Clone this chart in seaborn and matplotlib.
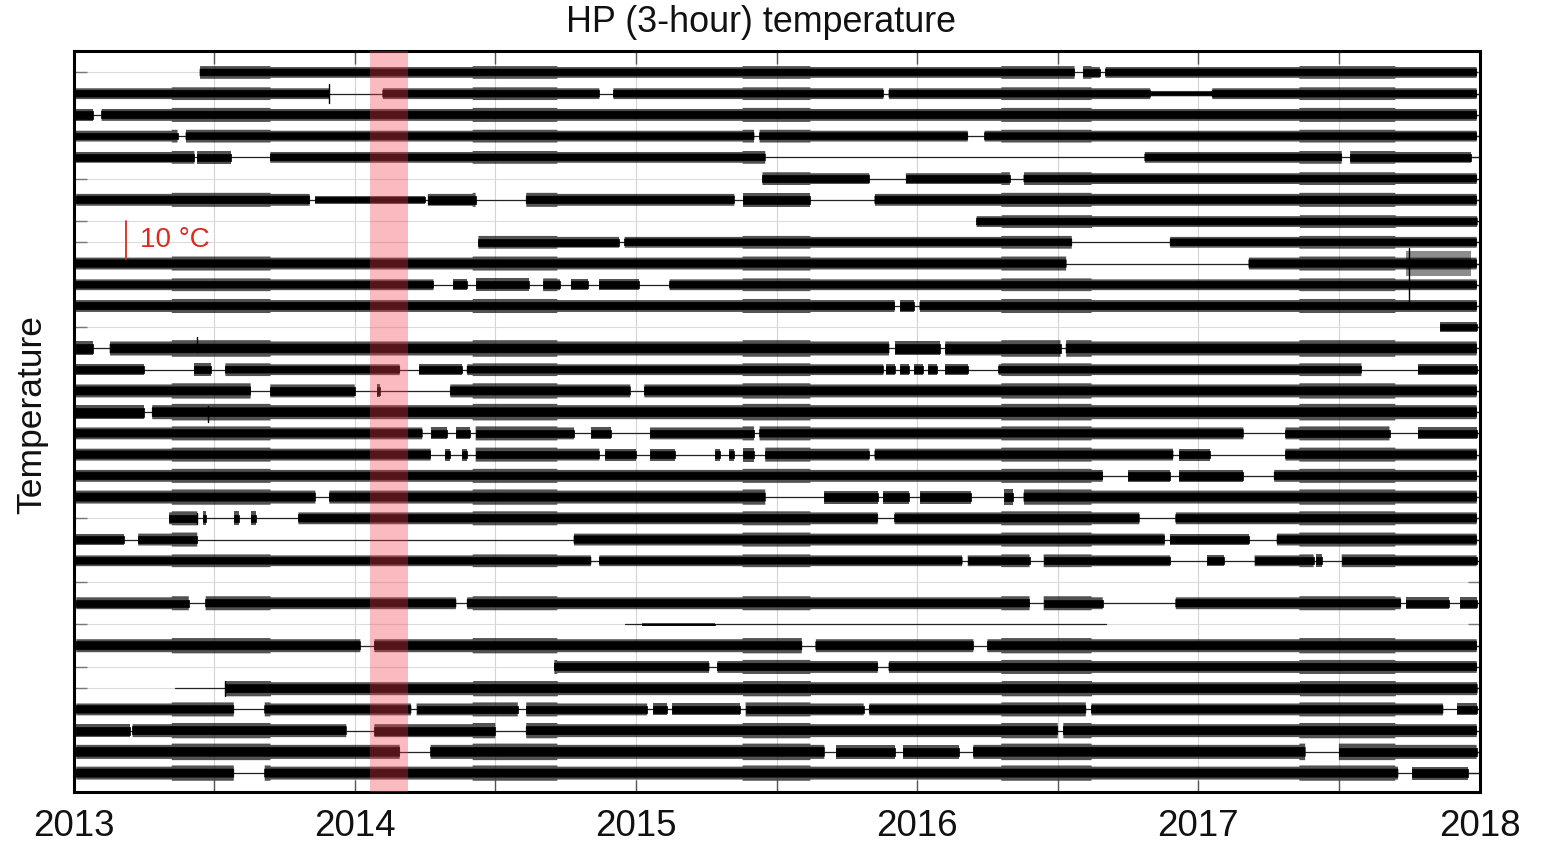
import numpy as np
import pandas as pd
import matplotlib
matplotlib.use("Agg")
import matplotlib.pyplot as plt
import seaborn as sns

# ---------------- data ----------------
title = "HP (3-hour) temperature"
ylabel = "Temperature"
year_ticks = [2013.0, 2013.5, 2014.0, 2014.5, 2015.0, 2015.5,
              2016.0, 2016.5, 2017.0, 2017.5, 2018.0]
year_labels = ["2013", "", "2014", "", "2015", "", "2016", "", "2017", "", "2018"]
highlight_span = (2014.053, 2014.191)
scale_bar_degC = 10
scale_label = "10 \u00b0C"

# data segments per station row: (start, end[, half-amplitude degC])
row_segments = [
    [(2013.45, 2016.56), (2016.59, 2016.65), (2016.67, 2017.99)],
    [(2013.0, 2013.91), (2014.10, 2014.87), (2014.92, 2015.88), (2015.90, 2016.83),
     (2016.83, 2017.05, 0.5), (2017.05, 2017.99)],
    [(2013.0, 2013.07), (2013.10, 2017.99)],
    [(2013.0, 2013.37), (2013.40, 2015.42), (2015.44, 2016.18), (2016.24, 2017.99)],
    [(2013.0, 2013.43), (2013.44, 2013.56), (2013.70, 2015.46), (2016.81, 2017.51),
     (2017.54, 2017.97)],
    [(2015.45, 2015.83), (2015.96, 2016.33), (2016.38, 2017.99)],
    [(2013.01, 2013.84), (2013.86, 2014.25, 0.7), (2014.26, 2014.43), (2014.61, 2015.35),
     (2015.38, 2015.62), (2015.85, 2017.99)],
    [(2016.21, 2017.99)],
    [(2014.44, 2014.94), (2014.96, 2016.55), (2016.90, 2017.99)],
    [(2013.0, 2016.53), (2017.18, 2017.99)],
    [(2013.0, 2014.28), (2014.35, 2014.40), (2014.43, 2014.62), (2014.67, 2014.73),
     (2014.77, 2014.83), (2014.87, 2015.01), (2015.12, 2017.99)],
    [(2013.0, 2015.92), (2015.94, 2015.99), (2016.01, 2017.99)],
    [(2017.86, 2017.99)],
    [(2013.01, 2013.07), (2013.13, 2015.90), (2015.92, 2016.08), (2016.10, 2016.51),
     (2016.53, 2017.99)],
    [(2013.01, 2013.25), (2013.43, 2013.49), (2013.54, 2014.16), (2014.23, 2014.38),
     (2014.40, 2015.88), (2015.89, 2015.92), (2015.94, 2015.97), (2015.99, 2016.02),
     (2016.04, 2016.07), (2016.10, 2016.18), (2016.29, 2017.58), (2017.78, 2017.99)],
    [(2013.0, 2013.63), (2013.70, 2014.00), (2014.08, 2014.09), (2014.34, 2014.98),
     (2015.03, 2017.99)],
    [(2013.0, 2013.25), (2013.28, 2017.99)],
    [(2013.0, 2014.24), (2014.27, 2014.33), (2014.36, 2014.41), (2014.43, 2014.78),
     (2014.84, 2014.91), (2015.05, 2015.42), (2015.44, 2017.16), (2017.31, 2017.68),
     (2017.78, 2017.99)],
    [(2013.0, 2014.27), (2014.32, 2014.34), (2014.38, 2014.40), (2014.43, 2014.87),
     (2014.89, 2015.00), (2015.05, 2015.14), (2015.28, 2015.30), (2015.33, 2015.35),
     (2015.38, 2015.42), (2015.46, 2015.83), (2015.85, 2016.91), (2016.93, 2017.04),
     (2017.31, 2017.99)],
    [(2013.0, 2016.66), (2016.75, 2016.90), (2016.93, 2017.16), (2017.27, 2017.99)],
    [(2013.0, 2013.86), (2013.91, 2015.46), (2015.67, 2015.86), (2015.88, 2015.97),
     (2016.01, 2016.19), (2016.31, 2016.34), (2016.38, 2017.99)],
    [(2013.34, 2013.44), (2013.46, 2013.47), (2013.57, 2013.59), (2013.63, 2013.65),
     (2013.80, 2015.86), (2015.92, 2016.79), (2016.92, 2017.99)],
    [(2013.01, 2013.18), (2013.23, 2013.44), (2014.78, 2016.88), (2016.90, 2017.18),
     (2017.28, 2017.99)],
    [(2013.0, 2014.84), (2014.87, 2016.16), (2016.18, 2016.40), (2016.45, 2016.90),
     (2017.03, 2017.09), (2017.20, 2017.41), (2017.42, 2017.44), (2017.51, 2017.99)],
    [],
    [(2013.01, 2013.41), (2013.47, 2014.36), (2014.40, 2016.40), (2016.45, 2016.66),
     (2016.92, 2017.72), (2017.74, 2017.89), (2017.93, 2017.99)],
    [(2015.02, 2015.28, 0.25)],
    [(2013.01, 2014.02), (2014.07, 2015.59), (2015.64, 2016.20), (2016.25, 2017.99)],
    [(2014.71, 2015.26), (2015.29, 2015.86), (2015.90, 2017.99)],
    [(2013.54, 2017.99)],
    [(2013.01, 2013.57), (2013.68, 2014.20), (2014.22, 2014.58), (2014.61, 2015.04),
     (2015.06, 2015.11), (2015.13, 2015.37), (2015.39, 2015.81), (2015.83, 2016.60),
     (2016.62, 2017.87), (2017.92, 2017.99)],
    [(2013.01, 2013.20), (2013.21, 2013.97), (2014.07, 2014.50), (2014.61, 2016.50),
     (2016.52, 2017.99)],
    [(2013.01, 2014.16), (2014.27, 2015.67), (2015.71, 2015.92), (2015.95, 2016.15),
     (2016.20, 2017.38), (2017.50, 2017.99)],
    [(2013.01, 2013.57), (2013.68, 2017.71), (2017.76, 2017.96)],
]

# typical half-amplitude of each row (degC)
row_amp = [1.0, 1.0, 1.1, 1.0, 1.0, 1.0, 1.1, 1.0, 1.0, 1.1,
           1.0, 1.1, 0.9, 1.3, 1.0, 1.2, 1.3, 1.1, 1.1, 1.1,
           1.2, 1.1, 1.1, 1.0, 0.0, 1.1, 0.25, 1.2, 1.1, 1.2,
           1.1, 1.2, 1.3, 1.2]

# extent of the thin connecting line of each row (None = no record)
line_spans = [
    (2013.45, 2017.99), (2013.0, 2018.0), (2013.0, 2018.0), (2013.0, 2018.0),
    (2013.0, 2018.0), (2015.45, 2018.0), (2013.0, 2018.0), (2016.21, 2018.0),
    (2014.44, 2018.0), (2013.0, 2018.0), (2013.0, 2018.0), (2013.0, 2018.0),
    (2017.86, 2018.0), (2013.0, 2018.0), (2013.0, 2018.0), (2013.0, 2018.0),
    (2013.0, 2018.0), (2013.0, 2018.0), (2013.0, 2018.0), (2013.0, 2018.0),
    (2013.0, 2018.0), (2013.34, 2018.0), (2013.0, 2018.0), (2013.0, 2018.0),
    None, (2013.0, 2018.0), (2014.96, 2016.67), (2013.0, 2018.0),
    (2014.71, 2018.0), (2013.36, 2018.0), (2013.0, 2018.0), (2013.0, 2018.0),
    (2013.0, 2018.0), (2013.0, 2018.0),
]

# periods of stronger (summer) variability and their amplitude gain
summer_windows = [(2013.35, 2013.70), (2014.42, 2014.72), (2015.38, 2015.62),
                  (2016.30, 2016.62), (2017.36, 2017.70)]
summer_gain = 1.18

# isolated large excursions: (row, start, end, half-amplitude degC)
bursts = [(9, 2017.74, 2017.97, 3.2)]
spikes = [(9, 2017.75, -12.0, 4.0), (1, 2013.91, -2.5, 2.5),
          (21, 2013.44, -1.5, 1.5), (29, 2013.54, -2.0, 2.0),
          (13, 2013.44, -1.0, 3.0), (16, 2013.48, -2.5, 1.5)]

# ---------------- figure ----------------
sns.set_theme(style="white")
plt.rcParams["font.family"] = ["Liberation Sans", "DejaVu Sans"]
plt.rcParams["text.color"] = "#111111"
plt.rcParams["xtick.color"] = "#111111"

W, H = 1555, 843
fig = plt.figure(figsize=(W / 100, H / 100), dpi=100)
ax = fig.add_axes([73.5 / W, 1 - 792 / H, (1479.5 - 73.5) / W, (792 - 51) / H])

n_rows = len(row_segments)
deg2row = 0.179  # rows per degC  (10 degC bar ~ 38 px)
core_frac, halo_frac = 0.88, 1.42

# grid
for xt in year_ticks:
    ax.axvline(xt, color="#d4d4d4", lw=0.8, zorder=0)
for r in range(n_rows):
    ax.axhline(r, color="#dcdcdc", lw=0.8, zorder=0)

# baselines via seaborn
recs = []
for r, sp in enumerate(line_spans):
    if sp is None:
        continue
    recs.append({"t": sp[0], "y": r, "row": r})
    recs.append({"t": sp[1], "y": r, "row": r})
df_lines = pd.DataFrame(recs)
sns.lineplot(data=df_lines, x="t", y="y", units="row", estimator=None,
             color="#222222", lw=0.9, ax=ax, zorder=2, legend=False)

# envelopes: solid core + softer halo for the spiky edges
t = np.linspace(2013.0, 2018.0, 5001)
for r, segs in enumerate(row_segments):
    if not segs:
        continue
    amp = np.full_like(t, np.nan)
    for s in segs:
        a = s[2] if len(s) > 2 else row_amp[r]
        m = (t >= s[0]) & (t <= s[1])
        amp[m] = a
    halo = amp * halo_frac
    core = amp * core_frac
    if row_amp[r] > 0.5:
        for w0, w1 in summer_windows:
            m = (t >= w0) & (t <= w1)
            halo[m] = halo[m] * summer_gain
    burst = np.full_like(t, np.nan)
    for br, b0, b1, ba in bursts:
        if br == r:
            m = (t >= b0) & (t <= b1) & ~np.isnan(amp)
            burst[m] = ba
    ax.fill_between(t, r - halo * deg2row, r + halo * deg2row, color="black",
                    alpha=0.68, lw=0, zorder=3)
    ax.fill_between(t, r - core * deg2row, r + core * deg2row, color="black",
                    lw=0.5, edgecolor="black", zorder=3)
    if np.any(~np.isnan(burst)):
        ax.fill_between(t, r - burst * deg2row, r + burst * deg2row,
                        color="black", alpha=0.45, lw=0, zorder=3)

for sr, st, lo, hi in spikes:
    ax.plot([st, st], [sr - hi * deg2row, sr - lo * deg2row], color="black",
            lw=1.0, zorder=3)

# highlighted period
ax.axvspan(highlight_span[0], highlight_span[1], color="#f03c4b", alpha=0.35,
           lw=0, zorder=4)

# scale bar
x_bar = 2013.0 + (126 - 73.5) / 281.2
y_bar0 = 7.0
ax.plot([x_bar, x_bar], [y_bar0, y_bar0 + scale_bar_degC * deg2row],
        color="#e0281e", lw=1.3, zorder=5)
ax.text(x_bar + 0.05, y_bar0 + scale_bar_degC * deg2row / 2, scale_label,
        color="#e0281e", fontsize=20, va="center", ha="left", zorder=5)

# axes
ax.set_xlim(2013.0, 2018.0)
ax.set_ylim(33.89, -1.01)
ax.set_xticks(year_ticks)
ax.set_xticklabels(year_labels, fontsize=26.5)
ax.set_yticks(range(n_rows))
ax.set_yticklabels([])
ax.tick_params(axis="x", direction="in", length=9, width=1.0, color="#555555",
               top=True, bottom=True, pad=12, labelcolor="#111111")
ax.tick_params(axis="y", direction="in", length=9, width=1.0, color="#777777",
               left=True, right=True)
ax.set_xlabel("")
ax.set_ylabel("")
for s in ax.spines.values():
    s.set_linewidth(2.2)
    s.set_color("black")

fig.text(761 / W, 1 - 22 / H, title, ha="center", va="center", fontsize=25.8)
fig.text(32 / W, 1 - 415 / H, ylabel, ha="center", va="center", rotation=90,
         fontsize=25.5)

fig.savefig("out.png", dpi=100)
